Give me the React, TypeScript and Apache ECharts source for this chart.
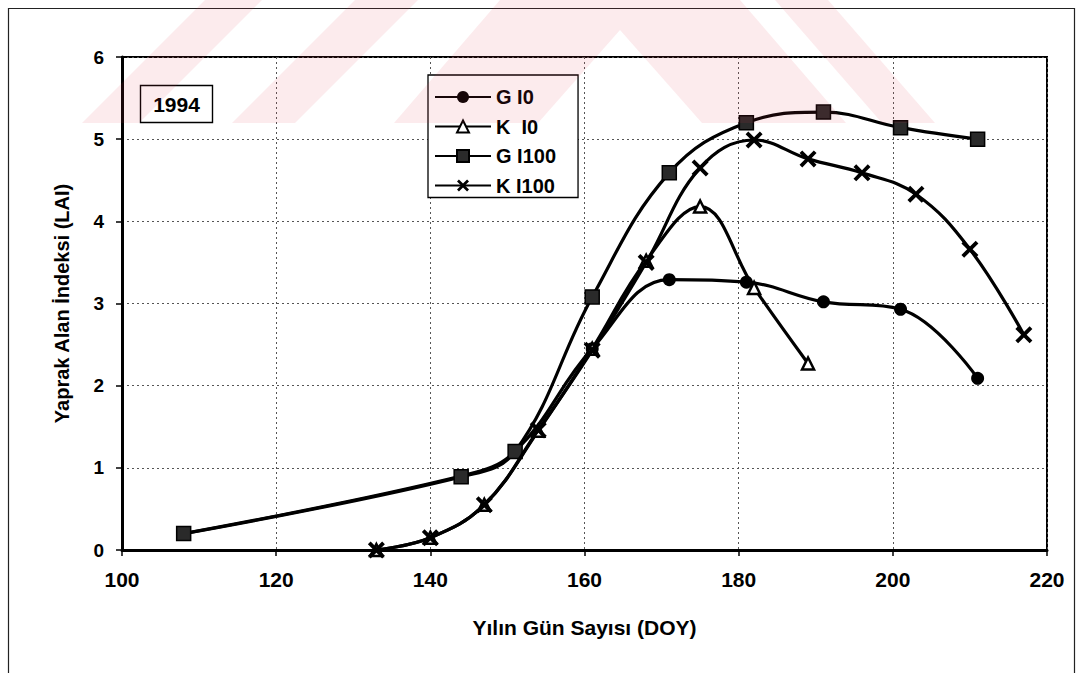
import React, { useEffect, useRef } from "react";
import * as echarts from "echarts";

// ---- Data ----
const doyGI0 = [108, 144, 151, 161, 171, 181, 191, 201, 211];
const laiGI0 = [0.2, 0.9, 1.2, 2.45, 3.29, 3.26, 3.02, 2.93, 2.09];

const doyKI0 = [133, 140, 147, 154, 161, 168, 175, 182, 189];
const laiKI0 = [0, 0.15, 0.55, 1.45, 2.45, 3.52, 4.18, 3.19, 2.27];

const doyGI100 = [108, 144, 151, 161, 171, 181, 191, 201, 211];
const laiGI100 = [0.2, 0.89, 1.2, 3.08, 4.59, 5.2, 5.33, 5.14, 5.0];

const doyKI100 = [133, 140, 147, 154, 161, 168, 175, 182, 189, 196, 203, 210, 217];
const laiKI100 = [0, 0.15, 0.55, 1.46, 2.43, 3.5, 4.65, 4.99, 4.76, 4.59, 4.33, 3.66, 2.62];

const seriesNames = ["G I0", "K  I0", "G I100", "K I100"];
const xTicks = { min: 100, max: 220, interval: 20 };
const yTicks = { min: 0, max: 6, interval: 1 };
const yearLabel = "1994";
const xAxisTitle = "Yılın Gün Sayısı (DOY)";
const yAxisTitle = "Yaprak Alan İndeksi (LAI)";

const pair = (xs: number[], ys: number[]) => xs.map((x, i) => [x, ys[i]]);

const CROSS =
  "path://M0,1.6 L1.6,0 L5,3.4 L8.4,0 L10,1.6 L6.6,5 L10,8.4 L8.4,10 L5,6.6 L1.6,10 L0,8.4 L3.4,5 Z";

const FONT = "'Liberation Sans', Arial, sans-serif";

export default function App() {
  const ref = useRef<HTMLDivElement>(null);

  useEffect(() => {
    if (!ref.current) return;
    const chart = echarts.init(ref.current, undefined, { renderer: "svg" });

    const lineStyle = { color: "#000", width: 3.2 };
    const pink = "rgba(230,60,80,0.1)";

    const option: any = {
      animation: false,
      backgroundColor: "#fff",
      textStyle: { fontFamily: FONT },
      grid: {
        left: 122,
        right: 32,
        top: 57,
        bottom: 123,
        show: true,
        borderColor: "#000",
        borderWidth: 2,
        backgroundColor: "transparent",
      },
      xAxis: {
        type: "value",
        min: xTicks.min,
        max: xTicks.max,
        interval: xTicks.interval,
        name: xAxisTitle,
        nameLocation: "middle",
        nameGap: 67,
        nameTextStyle: { fontSize: 21, fontWeight: "bold", color: "#000", fontFamily: FONT },
        axisLine: { show: true, onZero: false, lineStyle: { color: "#000", width: 3 } },
        axisTick: { show: true, length: 6, lineStyle: { color: "#000", width: 1.5 } },
        axisLabel: { fontSize: 21, fontWeight: "bold", color: "#000", margin: 19, fontFamily: FONT },
        splitLine: { show: true, lineStyle: { color: "#555", width: 1, type: [2, 3] } },
      },
      yAxis: {
        type: "value",
        min: yTicks.min,
        max: yTicks.max,
        interval: yTicks.interval,
        name: yAxisTitle,
        nameLocation: "middle",
        nameGap: 50,
        nameRotate: 90,
        nameTextStyle: { fontSize: 20, fontWeight: "bold", color: "#000", fontFamily: FONT },
        axisLine: { show: true, onZero: false, lineStyle: { color: "#000", width: 3 } },
        axisTick: { show: true, length: 6, lineStyle: { color: "#000", width: 1.5 } },
        axisLabel: { fontSize: 19, fontWeight: "bold", color: "#000", margin: 18, fontFamily: FONT },
        splitLine: { show: true, lineStyle: { color: "#555", width: 1, type: [2, 3] } },
      },
      legend: {
        orient: "vertical",
        left: 428,
        top: 75,
        padding: [12, 22, 2, 6],
        itemWidth: 56,
        itemHeight: 15,
        itemGap: 9.5,
        backgroundColor: "#fff",
        borderColor: "#000",
        borderWidth: 1.3,
        borderRadius: 0,
        textStyle: { fontSize: 20, fontWeight: "bold", color: "#000", fontFamily: FONT },
        data: seriesNames,
      },
      series: [
        {
          name: seriesNames[0],
          type: "line",
          smooth: 0.4,
          data: pair(doyGI0, laiGI0),
          symbol: "circle",
          symbolSize: 13,
          lineStyle,
          itemStyle: { color: "#000" },
          z: 3,
        },
        {
          name: seriesNames[1],
          type: "line",
          smooth: 0.4,
          data: pair(doyKI0, laiKI0),
          symbol: "triangle",
          symbolSize: 12,
          lineStyle,
          itemStyle: { color: "#fff", borderColor: "#000", borderWidth: 2.5 },
          z: 4,
        },
        {
          name: seriesNames[2],
          type: "line",
          smooth: 0.4,
          data: pair(doyGI100, laiGI100),
          symbol: "rect",
          symbolSize: 14,
          lineStyle,
          itemStyle: { color: "#2a2a2a", borderColor: "#000", borderWidth: 1.5 },
          z: 5,
        },
        {
          name: seriesNames[3],
          type: "line",
          smooth: 0.4,
          data: pair(doyKI100, laiKI100),
          symbol: CROSS,
          symbolSize: 17,
          lineStyle,
          itemStyle: { color: "#000" },
          z: 6,
        },
      ],
      graphic: [
        {
          type: "rect",
          shape: { x: 8.5, y: 8.5, width: 1066, height: 700 },
          style: { fill: "none", stroke: "#222", lineWidth: 1.2 },
          z: 1,
          silent: true,
        },
        {
          type: "rect",
          shape: { x: 140.5, y: 85.5, width: 72, height: 37 },
          style: { fill: "#fff", stroke: "#000", lineWidth: 1.4 },
          z: 10,
        },
        {
          type: "text",
          x: 176.5,
          y: 104,
          style: {
            text: yearLabel,
            fontSize: 21,
            fontWeight: "bold",
            fontFamily: FONT,
            fill: "#000",
            textAlign: "center",
            textVerticalAlign: "middle",
          },
          z: 11,
        },
        // faint pink watermark band at the top
        {
          type: "polygon",
          shape: { points: [[205, 0], [262, 0], [139, 123], [82, 123]] },
          style: { fill: pink },
          z: 100,
          silent: true,
        },
        {
          type: "polygon",
          shape: { points: [[355, 0], [418, 0], [295, 123], [232, 123]] },
          style: { fill: pink },
          z: 100,
          silent: true,
        },
        {
          type: "polygon",
          shape: {
            points: [
              [500, 0],
              [740, 0],
              [846, 123],
              [702, 123],
              [620, 30],
              [538, 123],
              [394, 123],
            ],
          },
          style: { fill: pink },
          z: 100,
          silent: true,
        },
        {
          type: "polygon",
          shape: { points: [[775, 0], [828, 0], [935, 123], [882, 123]] },
          style: { fill: pink },
          z: 100,
          silent: true,
        },
      ],
    };

    chart.setOption(option);
    return () => chart.dispose();
  }, []);

  return (
    <div
      ref={ref}
      style={{ position: "absolute", left: 0, top: 0, width: 1079, height: 673, background: "#fff" }}
    />
  );
}
